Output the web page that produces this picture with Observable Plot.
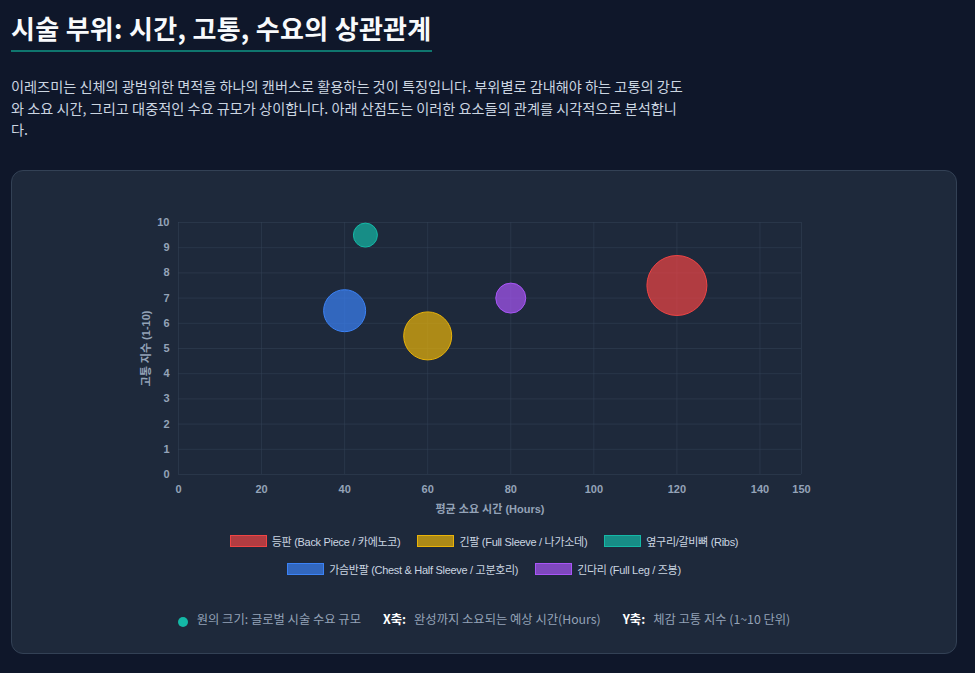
<!DOCTYPE html>
<html><head><meta charset="utf-8">
<script src="https://cdn.jsdelivr.net/npm/d3@7"></script>
<script src="https://cdn.jsdelivr.net/npm/@observablehq/plot@0.6"></script>
<style>
html,body{margin:0;padding:0;}
body{background:#0f172a;width:975px;height:673px;overflow:hidden;position:relative;font-family:"Noto Sans CJK KR","Noto Sans",sans-serif;}
h1{position:absolute;left:11px;top:11px;margin:0;font-size:26px;font-weight:700;color:#f8fafc;padding-bottom:5px;border-bottom:2px solid #0f766e;line-height:34px;letter-spacing:0.3px;}
p.desc{position:absolute;left:11px;top:76px;width:680px;margin:0;font-size:14.2px;line-height:21.5px;color:#cbd5e1;}
.card{position:absolute;left:11px;top:170px;width:946px;height:484px;box-sizing:border-box;background:#1e293b;border:1px solid #334155;border-radius:12px;}
#chart{position:absolute;left:0;top:19px;}
#legend{position:absolute;left:172px;width:600px;top:361px;display:flex;flex-wrap:wrap;justify-content:center;row-gap:10px;column-gap:17px;font-family:"Liberation Sans","Noto Sans CJK KR",sans-serif;font-size:11px;font-weight:400;letter-spacing:-0.3px;color:#cbd5e1;}
.li{display:flex;align-items:center;height:18px;}
.sw{width:35px;height:10px;border:1px solid;margin-right:5px;}
#foot{position:absolute;left:0;width:944px;top:439px;display:flex;justify-content:center;align-items:center;font-size:12.3px;color:#94a3b8;}
#foot .dot{width:10px;height:10px;border-radius:50%;background:#14b8a6;margin-right:9px;margin-top:5px;}
#foot b{color:#ffffff;font-weight:700;margin-right:8px;}
#foot .gap{width:22px;}
</style>
</head><body>
<h1>시술 부위: 시간, 고통, 수요의 상관관계</h1>
<p class="desc">이레즈미는 신체의 광범위한 면적을 하나의 캔버스로 활용하는 것이 특징입니다. 부위별로 감내해야 하는 고통의 강도와 소요 시간, 그리고 대중적인 수요 규모가 상이합니다. 아래 산점도는 이러한 요소들의 관계를 시각적으로 분석합니다.</p>
<div class="card">
  <div id="chart"></div>
  <div id="legend"></div>
  <div id="foot"></div>
</div>
<script>
const parts = ["등판 (Back Piece / 카에노코)", "긴팔 (Full Sleeve / 나가소데)", "옆구리/갈비뼈 (Ribs)", "가슴반팔 (Chest & Half Sleeve / 고분호리)", "긴다리 (Full Leg / 즈봉)"];
const hours = [120, 60, 45, 40, 80];
const pain = [7.5, 5.5, 9.5, 6.5, 7];
const demand = [30, 24, 12, 21, 15];
const colors = ["#ef4444", "#eab308", "#14b8a6", "#3b82f6", "#a855f7"];
const xTicks = [0, 20, 40, 60, 80, 100, 120, 140, 150];
const yTicks = [0, 1, 2, 3, 4, 5, 6, 7, 8, 9, 10];
const xLabel = "평균 소요 시간 (Hours)";
const yLabel = "고통 지수 (1-10)";

const data = parts.map((p, i) => ({part: p, hours: hours[i], pain: pain[i], demand: demand[i]}));

const plot = Plot.plot({
  width: 944, height: 330,
  marginLeft: 166, marginRight: 155, marginTop: 32, marginBottom: 46,
  style: {background: "transparent", color: "#94a3b8", fontFamily: "'Liberation Sans','Noto Sans CJK KR',sans-serif", fontSize: "11px", fontWeight: "700"},
  x: {domain: [0, 150]},
  y: {domain: [0, 10]},
  r: {type: "identity"},
  color: {domain: parts, range: colors},
  marks: [
    Plot.gridX(xTicks, {stroke: "#334155", strokeOpacity: 0.55}),
    Plot.gridY(yTicks, {stroke: "#334155", strokeOpacity: 0.55}),
    Plot.axisX(xTicks, {tickSize: 0, tickPadding: 11, label: xLabel, labelAnchor: "center", labelOffset: 38, labelArrow: "none", fill: "#94a3b8"}),
    Plot.axisY(yTicks, {tickSize: 0, tickPadding: 9, label: yLabel, labelAnchor: "center", labelOffset: 36, labelArrow: "none", fill: "#94a3b8"}),
    Plot.dot(data, {x: "hours", y: "pain", r: "demand", fill: "part", fillOpacity: 0.7, stroke: "part", strokeWidth: 1})
  ]
});
document.getElementById("chart").appendChild(plot);

const legend = document.getElementById("legend");
parts.forEach((p, i) => {
  const it = document.createElement("div");
  it.className = "li";
  const sw = document.createElement("div");
  sw.className = "sw";
  const c = d3.color(colors[i]);
  sw.style.borderColor = colors[i];
  sw.style.background = `rgba(${c.r},${c.g},${c.b},0.7)`;
  const t = document.createElement("span");
  t.textContent = p;
  it.appendChild(sw); it.appendChild(t);
  legend.appendChild(it);
});

const footItems = [
  {key: null, text: "원의 크기: 글로벌 시술 수요 규모"},
  {key: "X축:", text: "완성까지 소요되는 예상 시간(Hours)"},
  {key: "Y축:", text: "체감 고통 지수 (1~10 단위)"}
];
const foot = document.getElementById("foot");
footItems.forEach((f, i) => {
  if (i > 0) { const g = document.createElement("div"); g.className = "gap"; foot.appendChild(g); }
  if (f.key === null) { const d = document.createElement("div"); d.className = "dot"; foot.appendChild(d); }
  else { const b = document.createElement("b"); b.textContent = f.key; foot.appendChild(b); }
  const s = document.createElement("span"); s.textContent = f.text; foot.appendChild(s);
});
</script>
</body></html>
